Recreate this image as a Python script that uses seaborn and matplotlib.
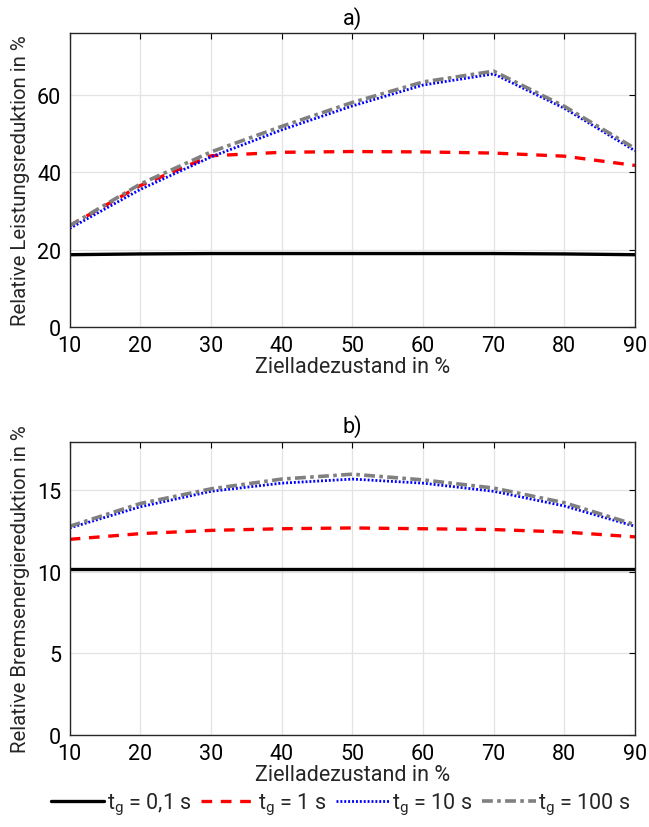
import numpy as np
import pandas as pd
import matplotlib
matplotlib.use("Agg")
import matplotlib.pyplot as plt
import seaborn as sns

# Zielladezustand (target state of charge) in %
soc = [10, 20, 30, 40, 50, 60, 70, 80, 90]
labels = [r"$\mathregular{t_g}$ = 0,1 s", r"$\mathregular{t_g}$ = 1 s",
          r"$\mathregular{t_g}$ = 10 s", r"$\mathregular{t_g}$ = 100 s"]

# a) Relative Leistungsreduktion in %
power_01 = [18.7, 18.9, 19.0, 19.0, 19.0, 19.0, 19.0, 18.9, 18.7]
power_1 = [26.2, 36.6, 44.3, 45.2, 45.4, 45.3, 45.0, 44.2, 41.8]
power_10 = [25.5, 35.6, 44.0, 51.0, 57.2, 62.6, 65.5, 56.6, 45.6]
power_100 = [26.2, 37.0, 45.3, 51.9, 58.1, 63.4, 66.2, 57.1, 46.2]

# b) Relative Bremsenergiereduktion in %
brake_01 = [10.2, 10.2, 10.2, 10.2, 10.2, 10.2, 10.2, 10.2, 10.2]
brake_1 = [12.0, 12.35, 12.55, 12.65, 12.7, 12.65, 12.6, 12.45, 12.15]
brake_10 = [12.7, 14.0, 14.95, 15.45, 15.7, 15.45, 14.95, 14.05, 12.8]
brake_100 = [12.8, 14.2, 15.1, 15.7, 16.0, 15.65, 15.15, 14.25, 12.9]

sns.set_style("white")
plt.rcParams["font.family"] = ["Roboto", "DejaVu Sans"]
plt.rcParams["mathtext.fontset"] = "custom"
plt.rcParams["mathtext.rm"] = "Roboto"
fs = 15.5

styles = [
    dict(color="black", linestyle="-", linewidth=2.4),
    dict(color="red", linestyle=(0, (3.2, 2.6)), linewidth=2.4),
    dict(color="blue", linestyle=(0, (0.7, 0.7)), linewidth=2.0),
    dict(color="gray", linestyle=(0, (3.0, 1.2, 1.0, 1.2)), linewidth=2.6),
]

fig = plt.figure(figsize=(6.49, 8.28), dpi=100)
ax1 = fig.add_axes([0.1074, 0.6039, 0.871, 0.3547])
ax2 = fig.add_axes([0.1074, 0.1115, 0.871, 0.3539])

panels = [
    (ax1, [power_01, power_1, power_10, power_100], 76, [0, 20, 40, 60],
     "Relative Leistungsreduktion in %", "a)"),
    (ax2, [brake_01, brake_1, brake_10, brake_100], 18, [0, 5, 10, 15],
     "Relative Bremsenergiereduktion in %", "b)"),
]

for ax, series, ymax, yt, ylab, title in panels:
    for vals, lab, st in zip(series, labels, styles):
        sns.lineplot(x=soc, y=vals, ax=ax, label=lab, **st)
    ax.set_xlim(10, 90)
    ax.set_ylim(0, ymax)
    ax.set_xticks(soc)
    ax.set_yticks(yt)
    ax.grid(True, color="#e3e3e3", linewidth=0.9)
    ax.set_axisbelow(True)
    ax.tick_params(direction="in", top=True, right=True, labelsize=fs,
                   length=4, width=0.8, colors="black", pad=6)
    for sp in ax.spines.values():
        sp.set_color("#262626")
        sp.set_linewidth(1.0)
    ax.set_xlabel("Zielladezustand in %", fontsize=fs, color="#262626", labelpad=0)
    ax.set_ylabel(ylab, fontsize=fs - 0.8, color="#262626", labelpad=5)
    ax.set_title(title, fontsize=fs, color="black", pad=7)
    ax.get_legend().remove()

handles, labs = ax1.get_legend_handles_labels()
fig.legend(handles, labs, loc="lower center", bbox_to_anchor=(0.525, -0.011),
           ncol=4, frameon=False, fontsize=fs, handlelength=2.5,
           handletextpad=0.12, columnspacing=0.45)

fig.savefig("out.png", dpi=100)
